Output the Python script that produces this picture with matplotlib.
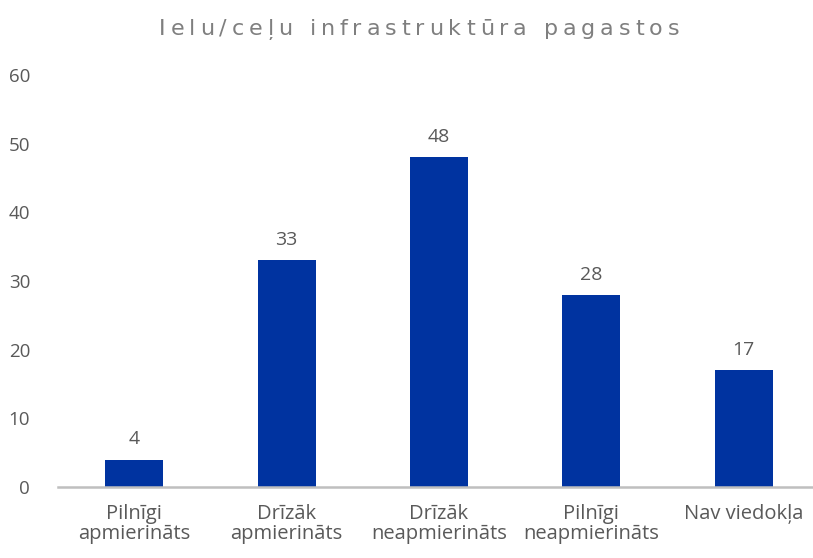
import matplotlib
matplotlib.use("Agg")
import matplotlib.pyplot as plt
from matplotlib.font_manager import FontProperties

categories = ["Pilnīgi\napmierināts", "Drīzāk\napmierināts", "Drīzāk\nneapmierināts",
              "Pilnīgi\nneapmierināts", "Nav viedokļa"]
values = [4, 33, 48, 28, 17]
title = "Ielu/ceļu infrastruktūra pagastos"

plt.rcParams['font.family'] = ['Open Sans', 'DejaVu Sans']

W, H = 813, 558
fig = plt.figure(figsize=(W / 100, H / 100), dpi=100)
# axes placed in pixel terms
left, right, top, bottom = 58, 813, 75, 487
ax = fig.add_axes([left / W, 1 - bottom / H, (right - left) / W, (bottom - top) / H])

bar_color = "#0033A0"
text_color = "#595959"
x = range(len(categories))
bars = ax.bar(x, values, width=0.38, color=bar_color)
for b, v in zip(bars, values):
    ax.annotate(str(v), (b.get_x() + b.get_width() / 2, v), xytext=(0, 8),
                textcoords="offset points", ha="center", va="bottom",
                fontsize=14, color=text_color)

ax.set_xlim(-0.5, 4.454)
ax.set_ylim(0, 60)
ax.set_yticks(range(0, 61, 10))
ax.set_xticks(list(x))
ax.set_xticklabels(categories, fontsize=14.5, color=text_color, linespacing=1.0)
ax.tick_params(axis="y", length=0, labelsize=13.5, labelcolor=text_color, pad=20)
ax.tick_params(axis="x", length=0, pad=12)

for s in ["top", "right", "left"]:
    ax.spines[s].set_visible(False)
ax.spines["bottom"].set_color("#bfbfbf")
ax.spines["bottom"].set_linewidth(1.8)

# title with letter spacing: place characters one by one
fp = FontProperties(family="DejaVu Sans", size=16)
renderer = fig.canvas.get_renderer()
spacing = 4.9  # px between letters
em = fp.get_size_in_points() * 100 / 72
widths = []
for c in title:
    if c == " ":
        widths.append(0.32 * em)
    else:
        widths.append(renderer.get_text_width_height_descent(c, fp, ismath=False)[0])
total = sum(widths) + spacing * (len(title) - 1)
xpos = 419 - total / 2
for c, w in zip(title, widths):
    if c != " ":
        fig.text(xpos / W, 1 - 35 / H, c, ha="left", va="baseline",
                 fontproperties=fp, color="#7f7f7f")
    xpos += w + spacing

fig.savefig("out.png", dpi=100)
